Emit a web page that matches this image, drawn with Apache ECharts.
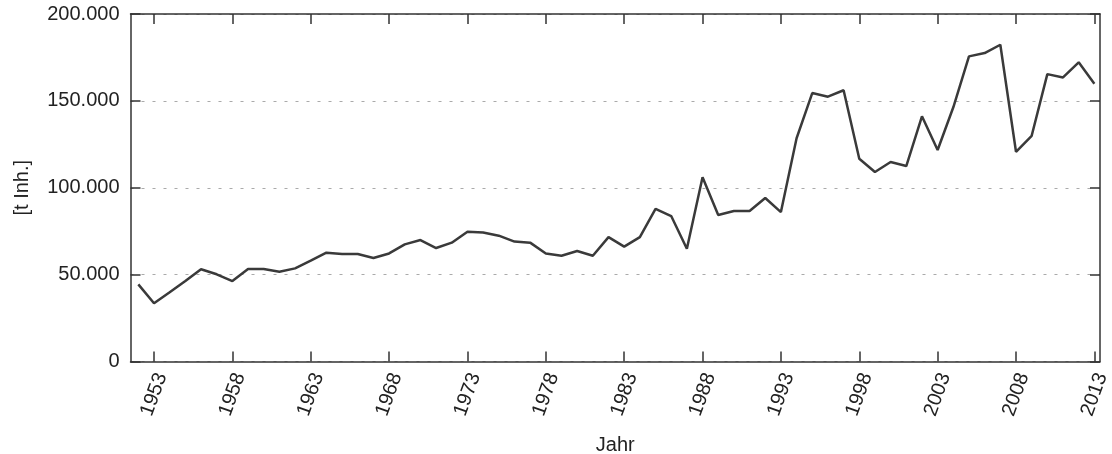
<!DOCTYPE html>
<html>
<head>
<meta charset="utf-8">
<script src="https://cdn.jsdelivr.net/npm/echarts@6/dist/echarts.min.js"></script>
<style>
  html, body { margin: 0; padding: 0; background: #fff; }
  #chart { width: 1112px; height: 454px; }
</style>
</head>
<body>
<div id="chart"></div>
<script>
// Jahre
var years = [1952, 1953, 1954, 1955, 1956, 1957, 1958, 1959, 1960, 1961,
    1962, 1963, 1964, 1965, 1966, 1967, 1968, 1969, 1970, 1971,
    1972, 1973, 1974, 1975, 1976, 1977, 1978, 1979, 1980, 1981,
    1982, 1983, 1984, 1985, 1986, 1987, 1988, 1989, 1990, 1991,
    1992, 1993, 1994, 1995, 1996, 1997, 1998, 1999, 2000, 2001,
    2002, 2003, 2004, 2005, 2006, 2007, 2008, 2009, 2010, 2011,
    2012, 2013];

// Werte [t Inh.]
var values = [44400, 33500, 39800, 46300, 53100, 50200, 46300, 53200, 53200, 51700,
    53600, 58000, 62600, 61900, 61900, 59600, 62200, 67400, 69900, 65300,
    68400, 74700, 74300, 72400, 69000, 68400, 62200, 60900, 63600, 60900,
    71600, 66100, 71600, 87900, 83700, 64900, 106000, 84300, 86600, 86600,
    94100, 86000, 128500, 154500, 152400, 156100, 116700, 109100, 114800, 112500,
    141100, 121700, 146300, 175600, 177500, 182300, 120700, 129900, 165400, 163500,
    172200, 159900];

// Achsenbeschriftung
var tickYears = [1953, 1958, 1963, 1968, 1973, 1978, 1983, 1988, 1993, 1998, 2003, 2008, 2013];

var seriesData = [];
for (var i = 0; i < years.length; i++) {
    seriesData.push([years[i], values[i]]);
}

// deutsches Zahlenformat: 200000 -> 200.000
function formatDe(v) {
    return String(v).replace(/\B(?=(\d{3})+(?!\d))/g, '.');
}

var axisLineStyle = { color: '#333333', width: 1.5 };
var font = 'Liberation Sans, Arial, sans-serif';
var textColor = '#222222';

var chart = echarts.init(document.getElementById('chart'));
chart.setOption({
    animation: false,
    grid: {
        left: 130.5, top: 14, right: 12, bottom: 92.5,
        containLabel: false,
        outerBoundsMode: 'none'
    },
    xAxis: [{
        type: 'value',
        min: 1951.5,
        max: 2013.36,
        name: 'Jahr',
        nameLocation: 'middle',
        nameGap: 74,
        nameTextStyle: { fontFamily: font, fontSize: 20, color: textColor },
        axisLine: { show: true, onZero: false, lineStyle: axisLineStyle },
        axisTick: { show: true, inside: true, length: 10, customValues: tickYears, lineStyle: axisLineStyle },
        axisLabel: {
            customValues: tickYears,
            rotate: 70,
            // Beschriftung mittig unter dem Tick (wie im Original)
            align: 'center',
            verticalAlign: 'middle',
            fontFamily: font, fontSize: 20, color: textColor, margin: 33,
            formatter: function (v) { return String(v); }
        },
        splitLine: { show: false }
    }, {
        type: 'value',
        position: 'top',
        min: 1951.5,
        max: 2013.36,
        axisLine: { show: true, onZero: false, lineStyle: axisLineStyle },
        axisTick: { show: true, inside: true, length: 10, customValues: tickYears, lineStyle: axisLineStyle },
        axisLabel: { show: false },
        splitLine: { show: false }
    }],
    yAxis: [{
        type: 'value',
        min: 0,
        max: 200000,
        interval: 50000,
        name: '[t Inh.]',
        nameLocation: 'middle',
        nameGap: 98,
        nameRotate: 90,
        nameTextStyle: { fontFamily: font, fontSize: 20, color: textColor },
        axisLine: { show: true, onZero: false, lineStyle: axisLineStyle },
        axisTick: { show: true, inside: true, length: 10, lineStyle: axisLineStyle },
        axisLabel: { fontFamily: font, fontSize: 20, color: textColor, margin: 11, formatter: formatDe },
        splitLine: { show: true, lineStyle: { color: '#aaaaaa', type: [3, 8], width: 1.2 } }
    }, {
        type: 'value',
        position: 'right',
        min: 0,
        max: 200000,
        interval: 50000,
        axisLine: { show: true, onZero: false, lineStyle: axisLineStyle },
        axisTick: { show: true, inside: true, length: 10, lineStyle: axisLineStyle },
        axisLabel: { show: false },
        splitLine: { show: false }
    }],
    series: [{
        type: 'line',
        data: seriesData,
        showSymbol: false,
        symbol: 'none',
        lineStyle: { color: '#3a3a3a', width: 2.5 },
        xAxisIndex: 0,
        yAxisIndex: 0
    }]
});
</script>
</body>
</html>
